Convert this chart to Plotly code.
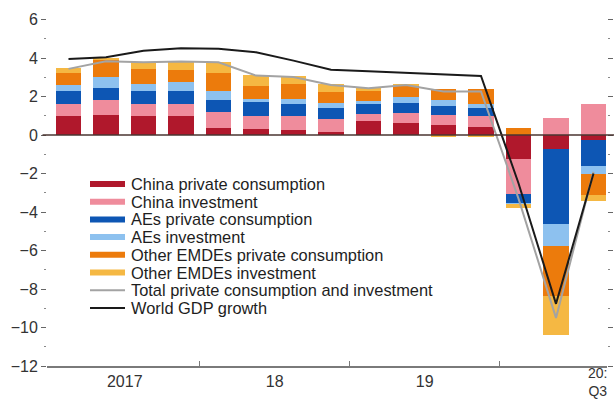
import plotly.graph_objects as go

quarters = ["2017Q1", "2017Q2", "2017Q3", "2017Q4", "2018Q1", "2018Q2", "2018Q3", "2018Q4",
            "2019Q1", "2019Q2", "2019Q3", "2019Q4", "2020Q1", "2020Q2", "2020Q3"]
china_cons = [0.97, 1.04, 0.97, 0.97, 0.36, 0.30, 0.24, 0.17, 0.71, 0.61, 0.54, 0.40, -1.22, -0.71, -0.26]
china_inv = [0.63, 0.76, 0.63, 0.63, 0.85, 0.68, 0.73, 0.68, 0.38, 0.54, 0.50, 0.57, -1.86, 0.90, 1.60]
aes_cons = [0.71, 0.63, 0.71, 0.71, 0.63, 0.73, 0.66, 0.54, 0.52, 0.52, 0.49, 0.43, -0.47, -3.89, -1.35]
aes_inv = [0.31, 0.57, 0.35, 0.43, 0.45, 0.17, 0.24, 0.28, 0.17, 0.30, 0.31, 0.21, -0.05, -1.18, -0.40]
oth_cons = [0.59, 0.92, 0.75, 0.66, 0.92, 0.69, 0.78, 0.57, 0.56, 0.56, 0.56, 0.78, 0.39, -2.57, -1.08]
oth_inv = [0.26, 0.07, 0.38, 0.42, 0.57, 0.56, 0.43, 0.42, 0.09, 0.14, -0.12, -0.12, -0.18, -2.03, -0.35]
total_ci = [3.44, 3.84, 3.78, 3.82, 3.78, 3.09, 3.02, 2.60, 2.43, 2.60, 2.27, 2.27, -3.30, -9.50, -1.90]
world_gdp = [3.96, 4.05, 4.38, 4.51, 4.48, 4.30, 3.87, 3.40, 3.32, 3.23, 3.16, 3.07, -2.50, -8.77, -2.00]

year_labels = ["2017", "18", "19"]
year_label_pos = [1.5, 5.5, 9.5]
last_label = "20:<br>Q3"
last_label_pos = 14.1
year_sep_pos = [3.5, 7.5, 11.5]
y_ticks = list(range(-12, 7, 2))

series = [
    ("China private consumption", china_cons, "#B0182C"),
    ("China investment", china_inv, "#EF8C9C"),
    ("AEs private consumption", aes_cons, "#0D56B4"),
    ("AEs investment", aes_inv, "#8DC1EF"),
    ("Other EMDEs private consumption", oth_cons, "#EC7B0C"),
    ("Other EMDEs investment", oth_inv, "#F5B843"),
]
line_series = [
    ("Total private consumption and investment", total_ci, "#A3A3A3"),
    ("World GDP growth", world_gdp, "#1A1A1A"),
]

x = list(range(len(quarters)))
fig = go.Figure()
for name, vals, col in series:
    fig.add_trace(go.Bar(x=x, y=vals, name=name, marker=dict(color=col, line=dict(width=0)),
                         width=0.67, showlegend=False, hovertext=quarters))
for name, vals, col in line_series:
    fig.add_trace(go.Scatter(x=x, y=vals, mode="lines", line=dict(color=col, width=2),
                             showlegend=False, name=name))

# zero line
fig.add_shape(type="line", xref="paper", yref="y", x0=-0.008, x1=1.02, y0=0, y1=0,
              line=dict(color="#4A3430", width=1.5))

# hand-drawn legend (compact rows like the reference)
W, H, L, T = 560, 356, 47, 10
def px(xp):
    return (xp - L) / W
def py(yp):
    return (T + H - yp) / H

row0, step = 184, 17.7
entries = [(n, c, 6) for n, _, c in series] + [(n, c, 2) for n, _, c in line_series]
for i, (name, col, lw) in enumerate(entries):
    yy = py(row0 + i * step)
    fig.add_shape(type="line", xref="paper", yref="paper", x0=px(90), x1=px(125), y0=yy, y1=yy,
                  line=dict(color=col, width=lw))
    fig.add_annotation(text=name, xref="paper", yref="paper", x=px(129), y=yy,
                       xanchor="left", yanchor="middle", showarrow=False,
                       font=dict(size=16.4, color="#1E1E1E"))

fig.add_annotation(text=last_label, xref="x", yref="paper", x=last_label_pos, y=py(400.5),
                   xanchor="center", yanchor="bottom", showarrow=False, align="center",
                   font=dict(size=14, color="#333333"))

fig.update_layout(
    width=614, height=401,
    margin=dict(l=L, r=614 - L - W, t=T, b=401 - T - H),
    paper_bgcolor="white", plot_bgcolor="white",
    barmode="relative", bargap=0, showlegend=False,
    font=dict(family="Liberation Sans, Arial, sans-serif", size=16, color="#333333"),
    xaxis=dict(range=[-0.573, 14.36], showgrid=False, zeroline=False, automargin=False,
               tickmode="array", tickvals=year_label_pos, ticktext=year_labels, ticks="",
               showline=True, linecolor="#7A7A7A", linewidth=1.5,
               minor=dict(tickmode="array", tickvals=year_sep_pos, ticks="inside", ticklen=5,
                          tickcolor="#7A7A7A", tickwidth=1),
               tickfont=dict(size=16, color="#333333")),
    yaxis=dict(range=[-12, 6.5], showgrid=False, zeroline=False, showline=False, automargin=False,
               tickmode="array", tickvals=y_ticks, ticks="outside", ticklen=5, tickcolor="#666666",
               mirror="ticks",
               minor=dict(tickmode="array", tickvals=[v + 1 for v in y_ticks[:-1]], ticks="outside",
                          ticklen=2, tickcolor="#888888"),
               tickfont=dict(size=16, color="#333333")),
)

fig.write_html("out.html", config={"displayModeBar": False},
               post_script="document.body.style.margin='0';document.body.style.overflow='hidden';")
